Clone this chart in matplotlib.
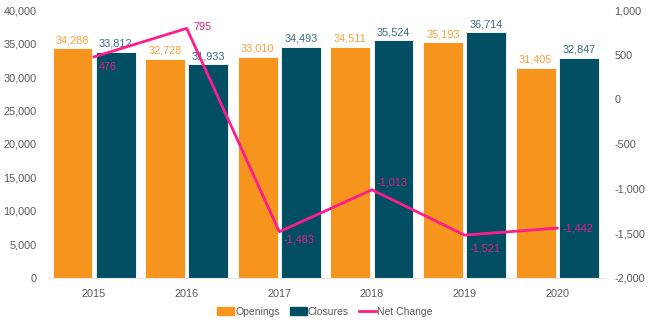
import matplotlib
matplotlib.use("Agg")
import matplotlib.pyplot as plt
import numpy as np
from matplotlib.patches import Patch
from matplotlib.lines import Line2D

years = ["2015", "2016", "2017", "2018", "2019", "2020"]
openings = [34288, 32728, 33010, 34511, 35193, 31405]
closures = [33812, 31933, 34493, 35524, 36714, 32847]
net_change = [476, 795, -1483, -1013, -1521, -1442]
net_labels = ["476", "795", "-1,483", "-1,013", "-1,521", "-1,442"]
label_offsets = [(5, -10), (7, 1), (4, -8), (5, 7), (5, -13), (5, 0)]

plt.rcParams['font.family'] = ['Liberation Sans', 'DejaVu Sans']

c_open = "#F7941D"
c_close = "#024E63"
c_net = "#FF1C8D"
c_open_txt = "#F9A13A"
c_close_txt = "#3A6B7B"
c_net_txt = "#E0207F"
c_tick = "#595959"
fs = 7.8

fig = plt.figure(figsize=(6.5, 3.25), dpi=100)
ax = fig.add_axes([0.0735, 0.145, 0.855, 0.824])
ax2 = ax.twinx()

x = np.arange(len(years))
w = 0.43
off = 0.233
ax.bar(x - off, openings, w, color=c_open, edgecolor="white", linewidth=0.6, zorder=2)
ax.bar(x + off, closures, w, color=c_close, edgecolor="white", linewidth=0.6, zorder=2)

for xi, v in zip(x, openings):
    ax.annotate(f"{v:,}", (xi - off, v), xytext=(0, 3), textcoords="offset pixels",
                ha="center", va="bottom", fontsize=fs, color=c_open_txt)
for xi, v in zip(x, closures):
    ax.annotate(f"{v:,}", (xi + off, v), xytext=(0, 3), textcoords="offset pixels",
                ha="center", va="bottom", fontsize=fs, color=c_close_txt)

ax.set_ylim(0, 40000)
ax.set_yticks(np.arange(0, 40001, 5000))
ax.set_yticklabels([f"{v:,}" for v in range(0, 40001, 5000)])
ax.set_xlim(-0.5, len(years) - 0.5)
ax.set_xticks(x)
ax.set_xticklabels(years)

ax2.plot(x, net_change, color=c_net, lw=2, zorder=5)
for xi, v, lab, (dx, dy) in zip(x, net_change, net_labels, label_offsets):
    ax2.annotate(lab, (xi, v), xytext=(dx, dy), textcoords="offset pixels",
                 ha="left", va="center", fontsize=fs, color=c_net_txt)
ax2.set_ylim(-2000, 1000)
ax2.set_yticks(np.arange(-2000, 1001, 500))
ax2.set_yticklabels([f"{v:,}" for v in range(-2000, 1001, 500)])

for a in (ax, ax2):
    for s in ["top", "right", "left", "bottom"]:
        a.spines[s].set_visible(False)
    a.tick_params(length=0, labelsize=fs, colors=c_tick)
ax.spines["bottom"].set_visible(True)
ax.spines["bottom"].set_color("#E6E6E6")
ax.tick_params(axis="x", pad=8)
ax.tick_params(axis="y", pad=8)
ax2.tick_params(axis="y", pad=8)

handles = [Patch(color=c_open, label="Openings"),
           Patch(color=c_close, label="Closures"),
           Line2D([0], [0], color=c_net, lw=2, label="Net Change")]
fig.legend(handles=handles, loc="center", bbox_to_anchor=(0.5, 0.04), ncol=3,
           frameon=False, fontsize=7.5, handlelength=1.6, handleheight=0.8,
           handletextpad=0.1, columnspacing=1.0, labelcolor=c_tick)

fig.savefig("out.png", dpi=100)
